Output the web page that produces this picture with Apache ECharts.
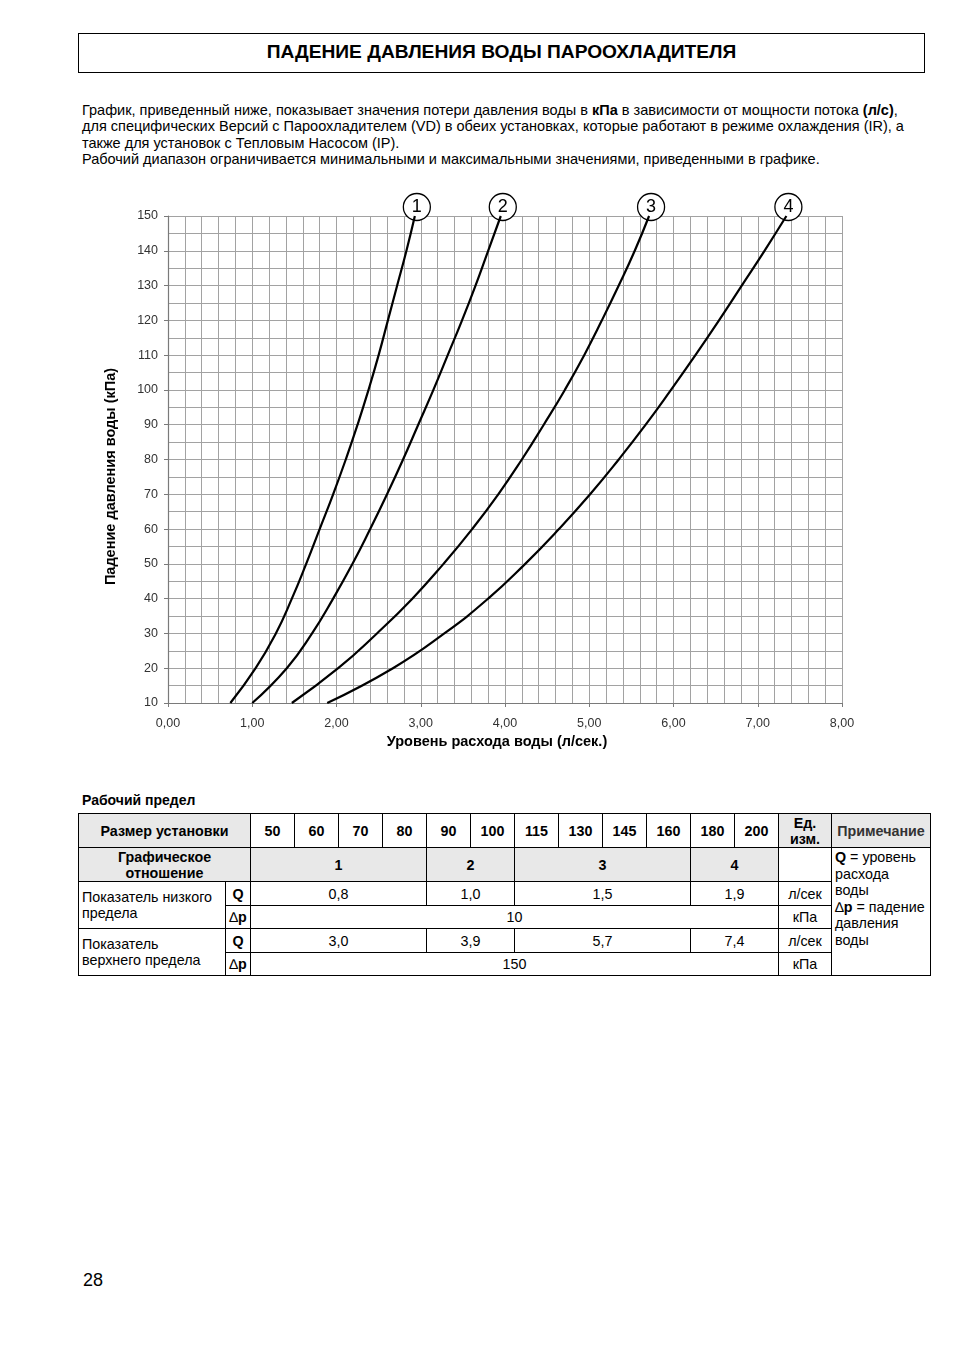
<!DOCTYPE html>
<html>
<head>
<meta charset="utf-8">
<script src="https://cdn.jsdelivr.net/npm/echarts@6/dist/echarts.min.js"></script>
<style>
  html, body { margin:0; padding:0; background:#fff; }
  body { width:954px; height:1350px; position:relative; font-family:"Liberation Sans", Arial, sans-serif; color:#000; overflow:hidden; }
  .titlebox { position:absolute; left:78px; top:33px; width:847px; height:40px; box-sizing:border-box; border:1px solid #000; text-align:center; font-weight:bold; font-size:19.2px; line-height:36px; }
  .para { position:absolute; left:82px; top:102px; font-size:14.5px; line-height:16.4px; white-space:nowrap; }
  .sub { position:absolute; left:82px; top:792px; font-size:14px; font-weight:bold; }
  #chart { position:absolute; left:0; top:185px; width:954px; height:580px; }
  table { position:absolute; left:78px; top:813px; border-collapse:collapse; table-layout:fixed; width:853px; font-size:14.3px; }
  td { border:1px solid #000; padding:0 3px; text-align:center; vertical-align:middle; line-height:16px; overflow:hidden; white-space:nowrap; }
  .hd td { height:33px; font-weight:bold; }
  .g { background:#e8e8e8; }
  .lab { text-align:left; }
  .note { text-align:left; vertical-align:top; line-height:16.6px; padding-top:1px; }
  .r1 { height:24px; }
  .r2 { height:23px; }
  .pg { position:absolute; left:83px; top:1270px; font-size:18px; }
</style>
</head>
<body>
<div class="titlebox">ПАДЕНИЕ ДАВЛЕНИЯ ВОДЫ ПАРООХЛАДИТЕЛЯ</div>
<div class="para">График, приведенный ниже, показывает значения потери давления воды в <b>кПа</b> в зависимости от мощности потока <b>(л/с)</b>,<br>для специфических Версий с Пароохладителем (VD) в обеих установках, которые работают в режиме охлаждения (IR), а<br>также для установок с Тепловым Насосом (IP).<br>Рабочий диапазон ограничивается минимальными и максимальными значениями, приведенными в графике.</div>
<div id="chart"></div>
<div class="sub">Рабочий предел</div>
<table>
  <colgroup>
    <col style="width:147px"><col style="width:25px">
    <col style="width:44px"><col style="width:44px"><col style="width:44px"><col style="width:44px">
    <col style="width:44px"><col style="width:44px"><col style="width:44px"><col style="width:44px">
    <col style="width:44px"><col style="width:44px"><col style="width:44px"><col style="width:44px">
    <col style="width:53px"><col style="width:99px">
  </colgroup>
  <tr class="hd">
    <td colspan="2" class="g">Размер установки</td>
    <td>50</td><td>60</td><td>70</td><td>80</td><td>90</td><td>100</td><td>115</td><td>130</td><td>145</td><td>160</td><td>180</td><td>200</td>
    <td class="g">Ед.<br>изм.</td><td class="g" style="color:#333">Примечание</td>
  </tr>
  <tr class="hd">
    <td colspan="2" class="g">Графическое<br>отношение</td>
    <td colspan="4" class="g">1</td><td colspan="2" class="g">2</td><td colspan="4" class="g">3</td><td colspan="2" class="g">4</td>
    <td></td>
    <td rowspan="5" class="note" style="font-weight:normal"><b>Q</b> = уровень<br>расхода<br>воды<br>∆<b>p</b> = падение<br>давления<br>воды</td>
  </tr>
  <tr class="r1">
    <td rowspan="2" class="lab">Показатель низкого<br>предела</td><td><b>Q</b></td>
    <td colspan="4">0,8</td><td colspan="2">1,0</td><td colspan="4">1,5</td><td colspan="2">1,9</td><td>л/сек</td>
  </tr>
  <tr class="r2">
    <td style="padding:0">∆<b>p</b></td><td colspan="12">10</td><td>кПа</td>
  </tr>
  <tr class="r1">
    <td rowspan="2" class="lab">Показатель<br>верхнего предела</td><td><b>Q</b></td>
    <td colspan="4">3,0</td><td colspan="2">3,9</td><td colspan="4">5,7</td><td colspan="2">7,4</td><td>л/сек</td>
  </tr>
  <tr class="r2">
    <td style="padding:0">∆<b>p</b></td><td colspan="12">150</td><td>кПа</td>
  </tr>
</table>
<div class="pg">28</div>
<script>
const pressureLevels = [10, 20, 30, 40, 50, 60, 70, 80, 90, 100, 110, 120, 130, 140, 150];
// Water flow (l/s) read for each curve at the pressure levels above
const flowCurve1 = [0.74, 1.04, 1.28, 1.47, 1.64, 1.80, 1.96, 2.11, 2.25, 2.38, 2.50, 2.61, 2.72, 2.83, 2.93];
const flowCurve2 = [1.00, 1.41, 1.71, 1.96, 2.19, 2.40, 2.60, 2.79, 2.97, 3.15, 3.32, 3.49, 3.65, 3.80, 3.95];
const flowCurve3 = [1.47, 2.02, 2.48, 2.90, 3.27, 3.61, 3.92, 4.20, 4.46, 4.71, 4.94, 5.15, 5.35, 5.54, 5.71];
const flowCurve4 = [1.89, 2.67, 3.28, 3.80, 4.24, 4.64, 5.01, 5.35, 5.67, 5.97, 6.26, 6.54, 6.81, 7.08, 7.34];
const curveNames = ['1', '2', '3', '4'];
const xTickLabels = ['0,00', '1,00', '2,00', '3,00', '4,00', '5,00', '6,00', '7,00', '8,00'];
const yTickLabels = ['10', '20', '30', '40', '50', '60', '70', '80', '90', '100', '110', '120', '130', '140', '150'];
const xAxisTitle = 'Уровень расхода воды (л/сек.)';
const yAxisTitle = 'Падение давления воды (кПа)';

const curves = [flowCurve1, flowCurve2, flowCurve3, flowCurve4];
const chart = echarts.init(document.getElementById('chart'), null, { renderer: 'canvas' });
const font = '"Liberation Sans", Arial, sans-serif';

const series = curves.map((flows, i) => {
  const data = flows.map((q, k) => [q, pressureLevels[k]]);
  const last = data[data.length - 1];
  return {
    type: 'line',
    name: curveNames[i],
    data: data,
    smooth: 0.5,
    showSymbol: false,
    symbol: 'none',
    clip: false,
    lineStyle: { color: '#000', width: 2.2 },
    z: 5,
    markPoint: {
      symbol: 'circle',
      symbolSize: 27,
      symbolOffset: [2, -9],
      silent: true,
      itemStyle: { color: '#fff', borderColor: '#000', borderWidth: 1.3 },
      label: { show: true, formatter: curveNames[i], color: '#000', fontSize: 18, fontFamily: font },
      data: [{ coord: last, name: curveNames[i] }]
    }
  };
});

chart.setOption({
  animation: false,
  grid: { left: 168, width: 674, top: 31, height: 487, containLabel: false },
  xAxis: {
    type: 'value', min: 0, max: 8, interval: 1,
    name: xAxisTitle, nameLocation: 'middle', nameGap: 31,
    nameTextStyle: { fontFamily: font, fontSize: 14.5, fontWeight: 'bold', color: '#000', padding: [0, 16, 0, 0] },
    axisLine: { show: true, lineStyle: { color: '#7a7a7a', width: 1.2 } },
    axisTick: { show: true, length: 4, lineStyle: { color: '#7a7a7a' } },
    axisLabel: { margin: 14, fontFamily: font, fontSize: 12.5, color: '#333', formatter: (v) => xTickLabels[Math.round(v)] },
    splitLine: { show: true, lineStyle: { color: '#a2a2a2', width: 1 } },
    minorTick: { show: false, splitNumber: 5 },
    minorSplitLine: { show: true, lineStyle: { color: '#a2a2a2', width: 1 } }
  },
  yAxis: {
    type: 'value', min: 10, max: 150, interval: 10,
    name: yAxisTitle, nameLocation: 'middle', nameGap: 50, nameRotate: 90,
    nameTextStyle: { fontFamily: font, fontSize: 14.5, fontWeight: 'bold', color: '#000', padding: [0, 34, 0, 0] },
    axisLine: { show: true, lineStyle: { color: '#7a7a7a', width: 1.2 } },
    axisTick: { show: true, length: 4, lineStyle: { color: '#7a7a7a' } },
    axisLabel: { margin: 10, fontFamily: font, fontSize: 12.5, color: '#333', formatter: (v) => yTickLabels[Math.round((v - 10) / 10)] },
    splitLine: { show: true, lineStyle: { color: '#a2a2a2', width: 1 } },
    minorTick: { show: false, splitNumber: 2 },
    minorSplitLine: { show: true, lineStyle: { color: '#a2a2a2', width: 1 } }
  },
  series: series
});
</script>
</body>
</html>
